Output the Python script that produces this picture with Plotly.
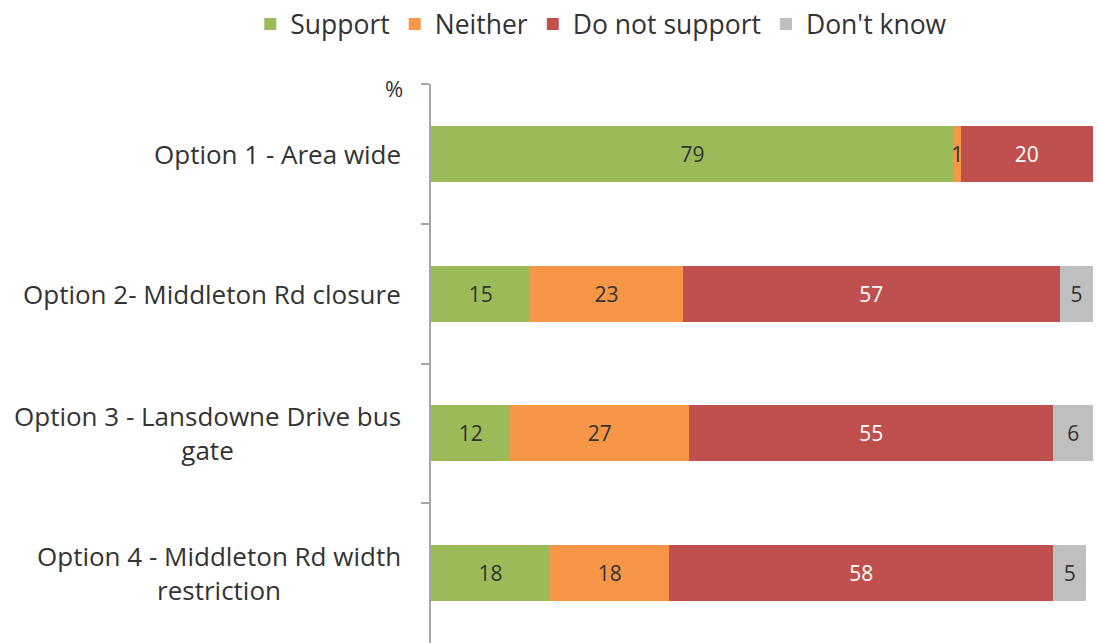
import plotly.graph_objects as go

categories = [
    "Option 1 - Area wide",
    "Option 2- Middleton Rd closure",
    "Option 3 - Lansdowne Drive bus<br>gate",
    "Option 4 - Middleton Rd width<br>restriction",
]
series_names = ["Support", "Neither", "Do not support", "Don't know"]
support = [79, 15, 12, 18]
neither = [1, 23, 27, 18]
do_not_support = [20, 57, 55, 58]
dont_know = [None, 5, 6, 5]

colors = ["#9BBB59", "#F79646", "#C0504D", "#BFBFBF"]
label_colors = ["#333333", "#333333", "#FFFFFF", "#333333"]
FONT = "Open Sans"
LBL_SIZE = 26
TXT = "#333333"

fig = go.Figure()
for name, vals, col, lcol in zip(series_names,
                                 [support, neither, do_not_support, dont_know],
                                 colors, label_colors):
    fig.add_trace(go.Bar(
        y=categories, x=vals, name=name, orientation="h",
        marker=dict(color=col, line=dict(width=0)),
        text=[("" if v is None else str(v)) for v in vals],
        textposition="inside", insidetextanchor="middle",
        constraintext="none",
        textfont=dict(family=FONT, size=21, color=lcol),
        width=0.4,
    ))

# category labels: right-aligned block, lines centered
for cat in categories:
    fig.add_annotation(
        x=-0.042, xref="paper", y=cat, yref="y", text=cat,
        align="center", showarrow=False, xanchor="right", yanchor="middle",
        font=dict(family=FONT, size=LBL_SIZE, color=TXT))

fig.add_annotation(x=-0.04, xref="paper", y=1.0, yref="paper", yshift=-4,
                   text="%", showarrow=False, xanchor="right", yanchor="middle",
                   font=dict(family=FONT, size=22, color=TXT))

fig.update_layout(
    width=1099, height=643,
    barmode="stack",
    plot_bgcolor="white", paper_bgcolor="white",
    margin=dict(l=431, r=6, t=84, b=0),
    xaxis=dict(range=[0, 100], visible=False, fixedrange=True),
    yaxis=dict(autorange="reversed", showticklabels=False,
               tickson="boundaries", ticks="outside", ticklen=8,
               tickcolor="#A6A6A6", tickwidth=2,
               showline=True, linecolor="#A6A6A6", linewidth=2,
               showgrid=False, zeroline=False),
    legend=dict(orientation="h", xref="paper", yref="paper",
                x=-0.273, y=1.15, xanchor="left", yanchor="top",
                font=dict(family=FONT, size=26.5, color=TXT),
                traceorder="normal"),
    font=dict(family=FONT),
)

fig.write_html("out.html")
